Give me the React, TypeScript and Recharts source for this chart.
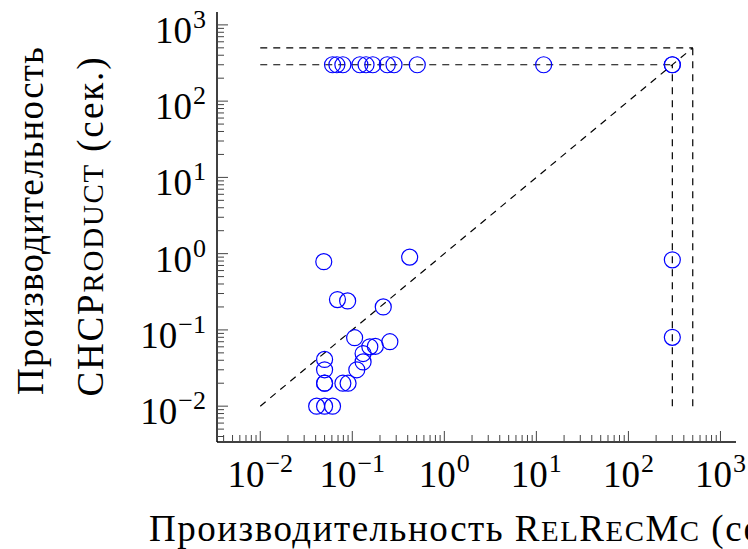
import React from 'react';
import { ScatterChart, Scatter, XAxis, YAxis, ReferenceLine } from 'recharts';

// ---- data (seconds) ----
const relrecmcTimes = [
  0.061, 0.068, 0.079, 0.121, 0.141, 0.167, 0.24, 0.284, 0.508, 12, 300, 300,
  0.049, 0.42, 0.069, 0.089, 0.217, 0.106, 0.256, 0.178, 0.155, 0.131, 0.131, 0.112,
  0.05, 0.05, 0.05, 0.05, 0.079, 0.09, 0.041, 0.05, 0.061, 300, 300,
];
const chcproductTimes = [
  300, 300, 300, 300, 300, 300, 300, 300, 300, 300, 300, 300,
  0.785, 0.9, 0.25, 0.24, 0.2, 0.079, 0.07, 0.061, 0.06, 0.049, 0.038, 0.03,
  0.041, 0.03, 0.02, 0.02, 0.02, 0.02, 0.01, 0.01, 0.01, 0.83, 0.08,
];

const DATA_MIN = 0.01;
const TIMEOUT = 300;
const LIMIT = 500;

const majorTicks = [0.01, 0.1, 1, 10, 100, 1000];
const majorTickExponents = ['\u22122', '\u22121', '0', '1', '2', '3'];
const minorMultipliers = [2, 3, 4, 5, 6, 7, 8, 9];

const points = relrecmcTimes.map((x, i) => ({ x, y: chcproductTimes[i] }));

// domain: data range enlarged by 10% on each side in log space
const lo = Math.log10(DATA_MIN);
const hi = Math.log10(LIMIT);
const pad = (hi - lo) * 0.1;
const domain: [number, number] = [Math.pow(10, lo - pad), Math.pow(10, hi + pad)];

const allTicks: number[] = [];
[0.001, 0.01, 0.1, 1, 10, 100, 1000].forEach((d) => {
  allTicks.push(d);
  minorMultipliers.forEach((m) => allTicks.push(m * d));
});
const ticks = allTicks.filter((v) => v >= domain[0] && v <= domain[1]);

const FONT = 'Liberation Serif, Times New Roman, serif';
const FS = 37;
const LFS = 37;
const SUP = 26;
const MAJOR = 11;
const MINOR = 7;
const TICK_COLOR = '#444';

const majorIndex = (v: number) => majorTicks.findIndex((m) => Math.abs(m - v) / m < 1e-6);

const TickLabel = ({ x, y, anchor, idx }: any) => (
  <text x={x} y={y} textAnchor={anchor} fontFamily={FONT} fontSize={FS} fill="#000">
    10
    <tspan dx={1} dy={-15} fontSize={SUP}>{majorTickExponents[idx]}</tspan>
  </text>
);

const BottomTick = (props: any) => {
  const { x, y, payload } = props;
  const idx = majorIndex(payload.value);
  const len = idx >= 0 ? MAJOR : MINOR;
  return (
    <g>
      <line x1={x} x2={x} y1={y} y2={y - len} stroke={TICK_COLOR} strokeWidth={1} />
      {idx >= 0 && <TickLabel x={x} y={y + 45} anchor="middle" idx={idx} />}
    </g>
  );
};

const TopTick = (props: any) => {
  const { x, y, payload } = props;
  const idx = majorIndex(payload.value);
  const len = idx >= 0 ? MAJOR : MINOR;
  return <line x1={x} x2={x} y1={y} y2={y + len} stroke={TICK_COLOR} strokeWidth={1} />;
};

const LeftTick = (props: any) => {
  const { x, y, payload } = props;
  const idx = majorIndex(payload.value);
  const len = idx >= 0 ? MAJOR : MINOR;
  return (
    <g>
      <line x1={x} x2={x + len} y1={y} y2={y} stroke={TICK_COLOR} strokeWidth={1} />
      {idx >= 0 && <TickLabel x={x - 11} y={y + 18} anchor="end" idx={idx} />}
    </g>
  );
};

const RightTick = (props: any) => {
  const { x, y, payload } = props;
  const idx = majorIndex(payload.value);
  const len = idx >= 0 ? MAJOR : MINOR;
  return <line x1={x} x2={x - len} y1={y} y2={y} stroke={TICK_COLOR} strokeWidth={1} />;
};

const Ring = (props: any) => {
  const { cx, cy } = props;
  if (cx == null || cy == null) return <g />;
  return <circle cx={cx} cy={cy} r={8} fill="none" stroke="#0000ff" strokeWidth={1.2} />;
};

const dash = { stroke: '#000', strokeWidth: 1.2, strokeDasharray: '7 6' };
const SC = 0.78;

export default function App() {
  const axisLine = { stroke: '#000', strokeWidth: 1.5 };
  return (
    <div style={{ position: 'absolute', left: 0, top: 0, width: 748, height: 549, background: '#fff', overflow: 'hidden' }}>
      <ScatterChart width={748} height={549} margin={{ top: 12, right: 12, bottom: 0, left: 0 }}>
        <XAxis
          xAxisId="bottom" orientation="bottom" type="number" dataKey="x" scale="log"
          domain={domain} allowDataOverflow ticks={ticks} interval={0}
          tickSize={0} tickMargin={0} tick={<BottomTick />} tickLine={false}
          axisLine={axisLine} height={107}
        />
        <XAxis
          xAxisId="top" orientation="top" type="number" dataKey="x" scale="log"
          domain={domain} allowDataOverflow ticks={ticks} interval={0}
          tickSize={0} tickMargin={0} tick={<TopTick />} tickLine={false}
          axisLine={axisLine} height={0}
        />
        <YAxis
          yAxisId="left" orientation="left" type="number" dataKey="y" scale="log"
          domain={domain} allowDataOverflow ticks={ticks} interval={0}
          tickSize={0} tickMargin={0} tick={<LeftTick />} tickLine={false}
          axisLine={axisLine} width={217}
        />
        <YAxis
          yAxisId="right" orientation="right" type="number" dataKey="y" scale="log"
          domain={domain} allowDataOverflow ticks={ticks} interval={0}
          tickSize={0} tickMargin={0} tick={<RightTick />} tickLine={false}
          axisLine={axisLine} width={0}
        />
        <ReferenceLine xAxisId="bottom" yAxisId="left" segment={[{ x: DATA_MIN, y: DATA_MIN }, { x: LIMIT, y: LIMIT }]} {...dash} />
        <ReferenceLine xAxisId="bottom" yAxisId="left" segment={[{ x: DATA_MIN, y: TIMEOUT }, { x: TIMEOUT, y: TIMEOUT }]} {...dash} />
        <ReferenceLine xAxisId="bottom" yAxisId="left" segment={[{ x: DATA_MIN, y: LIMIT }, { x: LIMIT, y: LIMIT }]} {...dash} />
        <ReferenceLine xAxisId="bottom" yAxisId="left" segment={[{ x: TIMEOUT, y: DATA_MIN }, { x: TIMEOUT, y: TIMEOUT }]} {...dash} />
        <ReferenceLine xAxisId="bottom" yAxisId="left" segment={[{ x: LIMIT, y: DATA_MIN }, { x: LIMIT, y: LIMIT }]} {...dash} />
        <Scatter xAxisId="bottom" yAxisId="left" data={points} shape={<Ring />} isAnimationActive={false} />
      </ScatterChart>
      <svg width={748} height={549} style={{ position: 'absolute', left: 0, top: 0, pointerEvents: 'none' }}>
        <text x={476.5} y={541} textAnchor="middle" textLength={655} lengthAdjust="spacing"
          fontFamily={FONT} fontSize={LFS} fill="#000">
          Производительность R<tspan fontSize={LFS * SC}>EL</tspan>R<tspan fontSize={LFS * SC}>EC</tspan>M<tspan fontSize={LFS * SC}>C</tspan> (сек.)
        </text>
        <text x={43} y={221} transform="rotate(-90 43 221)" textAnchor="middle" textLength={348} lengthAdjust="spacing"
          fontFamily={FONT} fontSize={LFS} fill="#000">
          Производительность
        </text>
        <text x={103} y={227} transform="rotate(-90 103 227)" textAnchor="middle" textLength={339} lengthAdjust="spacing"
          fontFamily={FONT} fontSize={LFS} fill="#000">
          CHCP<tspan fontSize={LFS * SC}>RODUCT</tspan> (сек.)
        </text>
      </svg>
    </div>
  );
}
